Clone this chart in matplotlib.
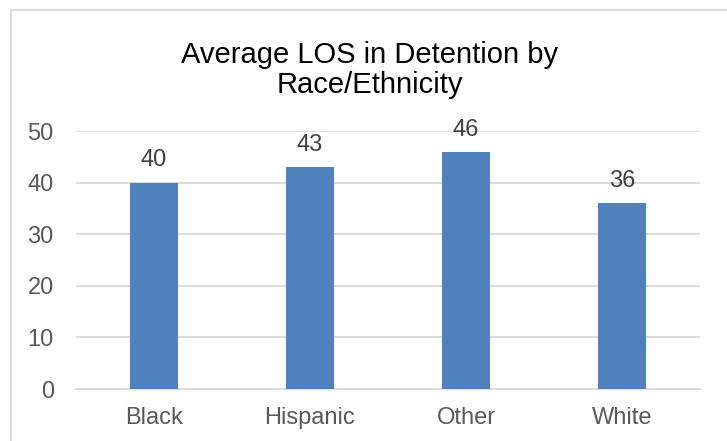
import matplotlib.pyplot as plt
import matplotlib.patches as patches
import numpy as np

plt.rcParams['font.family'] = ['Liberation Sans', 'DejaVu Sans']

categories = ['Black', 'Hispanic', 'Other', 'White']
avg_los = [40, 43, 46, 36]
y_ticks = [0, 10, 20, 30, 40, 50]

fig = plt.figure(figsize=(7.27, 4.41), dpi=100)
ax = fig.add_axes([76 / 727, 1 - 389 / 441, 624 / 727, 258 / 441])

x = np.arange(len(categories))
ax.bar(x, avg_los, width=0.31, color='#4f81bd', zorder=3)

for xi, v in zip(x, avg_los):
    ax.annotate(str(v), (xi, v), xytext=(0, 8), textcoords='offset points',
                ha='center', va='bottom', fontsize=17, color='#404040')

ax.set_xlim(-0.5, len(categories) - 0.5)
ax.set_ylim(0, 50)
ax.set_yticks(y_ticks)
ax.set_xticks(x)
ax.set_xticklabels(categories)
ax.tick_params(axis='both', length=0, labelsize=17, labelcolor='#595959')
ax.tick_params(axis='y', pad=16)
ax.tick_params(axis='x', pad=13)

ax.grid(axis='y', color='#d9d9d9', linewidth=1.3, zorder=0)
for s in ['top', 'right', 'left']:
    ax.spines[s].set_visible(False)
ax.spines['bottom'].set_color('#d9d9d9')
ax.spines['bottom'].set_linewidth(1.3)

fig.text(370 / 727, 1 - 93 / 441, 'Average LOS in Detention by\nRace/Ethnicity',
         ha='center', va='baseline', fontsize=21, color='#000000',
         linespacing=1.1, multialignment='center')

# chart border
fig.patches.append(patches.Rectangle((11 / 727, -0.05), 1.0, 1 - 10 / 441 + 0.05,
                                     transform=fig.transFigure, fill=False,
                                     edgecolor='#d9d9d9', linewidth=1.3))

fig.savefig('out.png', dpi=100)
